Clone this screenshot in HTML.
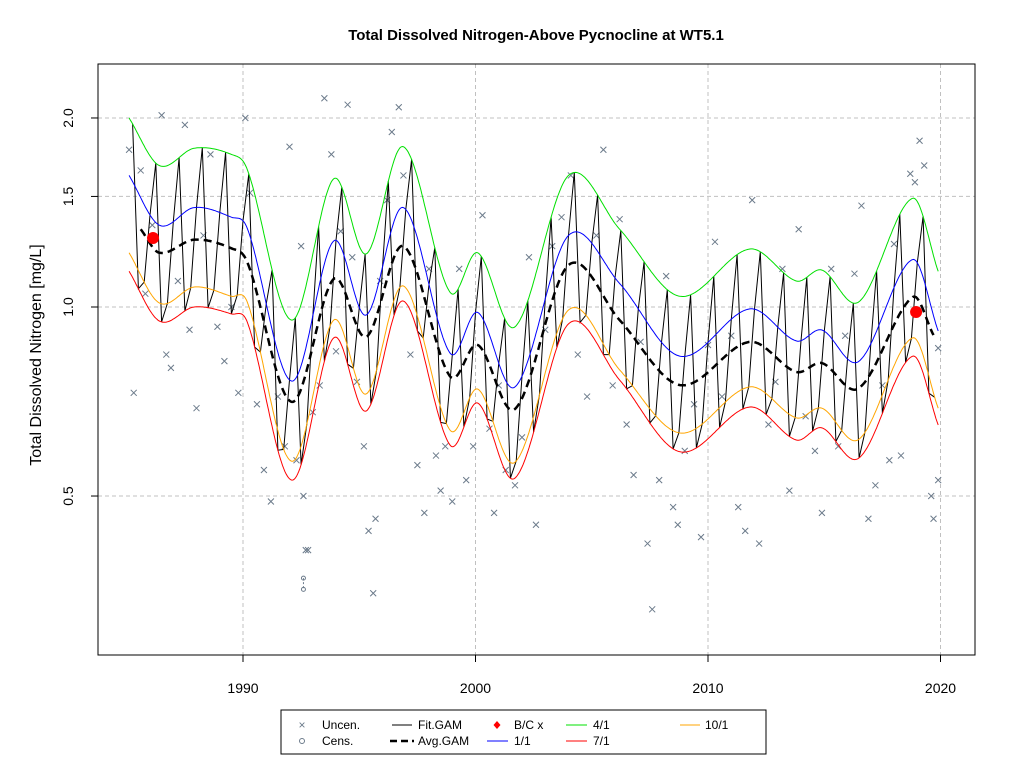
<!DOCTYPE html>
<html><head><meta charset="utf-8">
<style>
body{margin:0;background:#fff;width:1024px;height:768px;overflow:hidden;font-family:"Liberation Sans",Arial,sans-serif}
svg text{font-family:"Liberation Sans",Arial,sans-serif}
</style></head>
<body>
<svg id="chart" width="1024" height="768" xmlns="http://www.w3.org/2000/svg">
<rect x="0" y="0" width="1024" height="768" fill="#fff"/>
<text x="536" y="40" text-anchor="middle" font-size="15" font-weight="bold">Total Dissolved Nitrogen-Above Pycnocline at WT5.1</text>
<text transform="translate(41,355) rotate(-90)" text-anchor="middle" font-size="16">Total Dissolved Nitrogen [mg/L]</text>
<g id="grid"></g>
<g id="marks"></g>
<rect x="98" y="64" width="877" height="591" fill="none" stroke="#000" stroke-width="1"/>
<g id="axes"></g>
<g>
<rect x="281" y="710" width="485" height="44" fill="#fff" stroke="#000"/>
<g><text x="302" y="729" text-anchor="middle" font-size="12" fill="#6c7b8b">×</text><text x="322" y="729" font-size="12">Uncen.</text></g>
<g><circle cx="302" cy="741" r="2.5" fill="none" stroke="#6c7b8b"/><text x="322" y="745" font-size="12">Cens.</text></g>
<g><line x1="392" y1="725" x2="412" y2="725" stroke="#000"/><text x="418" y="729" font-size="12">Fit.GAM</text></g>
<g><line x1="390" y1="741" x2="414" y2="741" stroke="#000" stroke-width="2.5" stroke-dasharray="7,4"/><text x="418" y="745" font-size="12">Avg.GAM</text></g>
<g><path d="M497,721 l3.5,4 -3.5,4 -3.5,-4z" fill="red"/><text x="514" y="729" font-size="12">B/C x</text></g>
<g><line x1="487" y1="741" x2="508" y2="741" stroke="blue"/><text x="514" y="745" font-size="12">1/1</text></g>
<g><line x1="566" y1="725" x2="587" y2="725" stroke="#00e000"/><text x="593" y="729" font-size="12">4/1</text></g>
<g><line x1="566" y1="741" x2="587" y2="741" stroke="red"/><text x="593" y="745" font-size="12">7/1</text></g>
<g><line x1="680" y1="725" x2="700" y2="725" stroke="orange"/><text x="705" y="729" font-size="12">10/1</text></g>
</g>
</svg>
<script>
const xTicks=[1990,2000,2010,2020];
const yTicks=[0.5,1.0,1.5,2.0];
const yTickLabels=["0.5","1.0","1.5","2.0"];
const knotYears=[1985.1,1986.4,1987.9,1989.5,1990.2,1992.1,1993.9,1995.3,1996.9,1998.9,2000.1,2001.7,2004.0,2006.2,2008.8,2011.8,2013.8,2014.9,2016.5,2018.8,2019.9];
const apr1=[2.0,1.68,1.79,1.75,1.65,0.953,1.6,1.215,1.8,1.056,1.22,0.93,1.62,1.33,1.04,1.237,1.10,1.145,1.02,1.49,1.14];
const jan1=[1.62,1.35,1.44,1.39,1.33,0.762,1.274,0.971,1.44,0.845,0.98,0.746,1.30,1.09,0.835,0.993,0.883,0.919,0.82,1.19,0.916];
const oct1=[1.22,1.015,1.076,1.04,1.015,0.568,0.953,0.727,1.08,0.637,0.74,0.566,0.989,0.794,0.63,0.746,0.666,0.69,0.616,0.893,0.69];
const jul1=[1.14,0.95,1.0,0.975,0.943,0.53,0.893,0.683,1.022,0.603,0.703,0.534,0.94,0.765,0.588,0.693,0.614,0.642,0.575,0.835,0.649];
const avgYears=[1985.6,1986.4,1987.9,1989.5,1990.2,1992.1,1993.9,1995.3,1996.9,1998.9,2000.1,2001.7,2004.0,2006.2,2008.8,2011.8,2013.8,2014.9,2016.5,2018.8,2019.7];
const avgGam=[1.33,1.22,1.28,1.24,1.175,0.706,1.108,0.896,1.25,0.776,0.87,0.688,1.166,0.953,0.751,0.88,0.788,0.814,0.743,1.037,0.902];
const bcYears=[1986.13,2018.95];
const bcValues=[1.288,0.982];
const censYears=[1992.6,1992.6];
const censValues=[0.37,0.355];
const obsYears=[1985.1,1985.3,1985.6,1985.8,1986.1,1986.5,1986.7,1986.9,1987.2,1987.5,1987.7,1988.0,1988.3,1988.6,1988.9,1989.2,1989.5,1989.8,1990.1,1990.3,1990.6,1990.9,1991.2,1991.5,1991.8,1992.0,1992.3,1992.5,1992.6,1992.7,1992.8,1993.0,1993.3,1993.5,1993.8,1994.0,1994.2,1994.5,1994.7,1994.9,1995.2,1995.4,1995.6,1995.7,1995.9,1996.2,1996.4,1996.7,1996.9,1997.2,1997.5,1997.8,1998.0,1998.3,1998.5,1998.7,1999.0,1999.3,1999.6,1999.9,2000.3,2000.6,2000.8,2001.0,2001.3,2001.7,2002.0,2002.3,2002.6,2003.0,2003.3,2003.7,2004.1,2004.4,2004.8,2005.2,2005.5,2005.9,2006.2,2006.5,2006.8,2007.1,2007.4,2007.6,2007.9,2008.2,2008.5,2008.7,2009.0,2009.4,2009.7,2010.0,2010.3,2010.6,2011.0,2011.3,2011.6,2011.9,2012.2,2012.6,2012.9,2013.2,2013.5,2013.9,2014.2,2014.6,2014.9,2015.3,2015.6,2015.9,2016.3,2016.6,2016.9,2017.2,2017.5,2017.8,2018.0,2018.3,2018.7,2018.9,2019.1,2019.3,2019.6,2019.7,2019.9,2019.9];
const obsValues=[1.78,0.73,1.65,1.05,1.35,2.02,0.84,0.80,1.10,1.95,0.92,0.69,1.30,1.75,0.93,0.82,1.0,0.73,2.0,1.52,0.70,0.55,0.49,0.72,0.60,1.8,0.57,1.25,0.5,0.41,0.41,0.68,0.75,2.15,1.75,0.85,1.32,2.1,1.2,0.76,0.6,0.44,0.35,0.46,1.1,1.48,1.9,2.08,1.62,0.84,0.56,0.47,1.15,0.58,0.51,0.6,0.49,1.15,0.53,0.6,1.4,0.64,0.47,0.75,0.55,0.52,0.62,1.2,0.45,0.92,1.25,1.39,1.62,0.84,0.72,1.3,1.78,0.75,1.38,0.65,0.54,0.88,0.42,0.33,0.53,1.12,0.48,0.45,0.59,0.7,0.43,0.87,1.27,0.72,0.9,0.48,0.44,1.48,0.42,0.65,0.76,1.15,0.51,1.33,0.67,0.59,0.47,1.15,0.6,0.9,1.13,1.45,0.46,0.52,0.75,0.57,1.26,0.58,1.63,1.58,1.84,1.68,0.5,0.46,0.53,0.86];

const NS="http://www.w3.org/2000/svg";
const X0=98,X1=975,Y0=64,Y1=655;
function xs(yr){return 243+(yr-1990)*23.25;}
function ys(v){return 307-Math.log(v)*272.7;}
function mk(tag,attrs,parent){const e=document.createElementNS(NS,tag);for(const k in attrs)e.setAttribute(k,attrs[k]);parent.appendChild(e);return e;}
const grid=document.getElementById('grid'),marks=document.getElementById('marks'),axes=document.getElementById('axes');

xTicks.forEach(t=>{
  const g=mk('line',{x1:xs(t),x2:xs(t),y1:Y0,y2:Y1,stroke:'#c0c0c0','stroke-dasharray':'4,3'},grid);
  
  
  const tk=mk('line',{x1:xs(t),x2:xs(t),y1:Y1,y2:Y1+7,stroke:'#000'},axes);
  
  
  const tx=mk('text',{x:xs(t),y:693,'text-anchor':'middle','font-size':'14'},axes);
  tx.textContent=t;
  
  
});
mk('line',{x1:xs(1990),x2:xs(2020),y1:Y1,y2:Y1,stroke:'#000'},axes);
yTicks.forEach((t,i)=>{
  const g=mk('line',{x1:X0,x2:X1,y1:ys(t),y2:ys(t),stroke:'#c0c0c0','stroke-dasharray':'4,3'},grid);
  
  
  const tk=mk('line',{x1:X0-7,x2:X0,y1:ys(t),y2:ys(t),stroke:'#000'},axes);
  
  
  const tx=mk('text',{transform:`translate(73,${ys(t)}) rotate(-90)`,'text-anchor':'middle','font-size':'14'},axes);
  tx.textContent=yTickLabels[i];
  
  
});

// catmull-rom in log space
function interp(years,vals,t){
  const n=years.length;
  if(t<=years[0])return Math.log(vals[0]);
  if(t>=years[n-1])return Math.log(vals[n-1]);
  let i=0;while(years[i+1]<t)i++;
  const L=k=>Math.log(vals[Math.max(0,Math.min(n-1,k))]);
  const T=k=>years[Math.max(0,Math.min(n-1,k))];
  const p0=L(i-1),p1=L(i),p2=L(i+1),p3=L(i+2);
  const h=T(i+1)-T(i);
  const m1=(i>0)?(p2-p0)/(T(i+1)-T(i-1))*h:(p2-p1);
  const m2=(i+2<n)?(p3-p1)/(T(i+2)-T(i))*h:(p2-p1);
  const s=(t-T(i))/h,s2=s*s,s3=s2*s;
  return (2*s3-3*s2+1)*p1+(s3-2*s2+s)*m1+(-2*s3+3*s2)*p2+(s3-s2)*m2;
}
function curvePath(years,vals){
  let d='';const a=years[0],b=years[years.length-1];
  for(let t=a;t<=b+1e-9;t+=0.05){const v=Math.exp(interp(years,vals,t));d+=(d?'L':'M')+xs(t).toFixed(1)+','+ys(v).toFixed(1);}
  return d;
}
// observations
obsYears.forEach((yr,i)=>{
  const x=xs(yr),y=ys(obsValues[i]);
  const p=mk('path',{d:`M${x-3},${y-3}L${x+3},${y+3}M${x-3},${y+3}L${x+3},${y-3}`,stroke:'#6c7b8b','stroke-width':'1'},marks);
  
  
});
mk('line',{x1:xs(censYears[0]),x2:xs(censYears[0]),y1:ys(censValues[0]),y2:ys(censValues[1]),stroke:'#6c7b8b','stroke-dasharray':'2,2'},marks);
censYears.forEach((yr,i)=>{
  const c=mk('circle',{cx:xs(yr),cy:ys(censValues[i]),r:2,fill:'none',stroke:'#6c7b8b'},marks);
  
  
});
// Fit.GAM zigzag: quarterly samples Jan(blue) Apr(green) Jul(red) Oct(orange)
(function(){
  const series=[jan1,apr1,jul1,oct1];let d='';
  for(let yr=1985;yr<2020;yr++){
    for(let q=0;q<4;q++){
      const t=yr+q*0.25;if(t<knotYears[0]||t>knotYears[knotYears.length-1])continue;
      const v=Math.exp(interp(knotYears,series[q],t));
      d+=(d?'L':'M')+xs(t).toFixed(1)+','+ys(v).toFixed(1);
    }
  }
  const p=mk('path',{d:d,fill:'none',stroke:'#000','stroke-width':'1'},marks);
  
  
})();
[[apr1,'#00e000','apr1-line'],[jan1,'blue','jan1-line'],[oct1,'orange','oct1-line'],[jul1,'red','jul1-line']].forEach(s=>{
  const p=mk('path',{d:curvePath(knotYears,s[0]),fill:'none',stroke:s[1],'stroke-width':'1'},marks);
  
  
});
const avg=mk('path',{d:curvePath(avgYears,avgGam),fill:'none',stroke:'#000','stroke-width':'2.5','stroke-dasharray':'8,5'},marks);


bcYears.forEach((yr,i)=>{
  const c=mk('circle',{cx:xs(yr),cy:ys(bcValues[i]),r:6,fill:'red'},marks);
  
  
});
</script>
</body></html>
